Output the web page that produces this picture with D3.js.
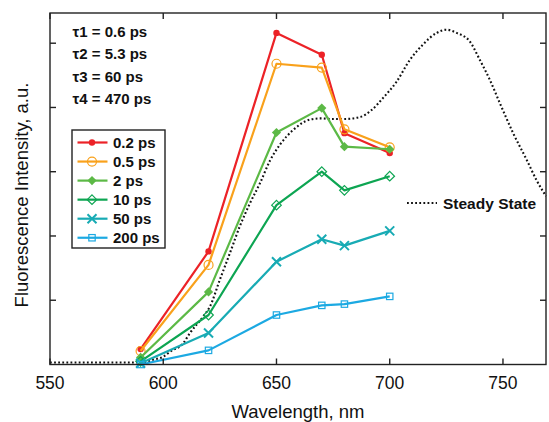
<!DOCTYPE html>
<html>
<head>
<meta charset="utf-8">
<script src="https://cdn.jsdelivr.net/npm/d3@7"></script>
<style>
  html, body { margin: 0; padding: 0; background: #fff; }
  svg { display: block; font-family: Arial, "Liberation Sans", Helvetica, sans-serif; }
</style>
</head>
<body>
<svg id="chart" width="549" height="422"></svg>
<script>
// Emission wavelengths sampled for the time-resolved spectra (nm)
const wavelengths = [590, 620, 650, 670, 680, 700];

// Time-resolved fluorescence intensity (a.u.) at each delay
const delays = ["0.2 ps", "0.5 ps", "2 ps", "10 ps", "50 ps", "200 ps"];
const i0_2ps = [0.24, 1.76, 5.16, 4.82, 3.60, 3.29];
const i0_5ps = [0.21, 1.55, 4.68, 4.62, 3.66, 3.38];
const i2ps   = [0.11, 1.13, 3.61, 3.99, 3.39, 3.35];
const i10ps  = [0.05, 0.77, 2.48, 3.00, 2.71, 2.93];
const i50ps  = [0.02, 0.49, 1.60, 1.95, 1.85, 2.08];
const i200ps = [0.00, 0.22, 0.77, 0.92, 0.94, 1.06];

// Steady-state emission spectrum
const ssWavelength = [550, 560, 570, 580, 588, 592, 596, 600, 603, 608.8, 611.8, 617.7, 620.6, 625, 629.4,
  633.8, 638.3, 642.7, 647.1, 651.5, 657.4, 664.7, 669.9, 674.5, 679.4, 686.8, 692, 697.1, 703, 708.9,
  714.7, 720.7, 725.1, 729.5, 735.3, 739.8, 744.2, 748.6, 754.5, 760.4, 764.8, 769];
const ssIntensity = [0.03, 0.03, 0.03, 0.03, 0.03, 0.04, 0.08, 0.12, 0.20, 0.33, 0.49, 0.75, 0.90, 1.32, 1.73,
  2.15, 2.51, 2.82, 3.17, 3.42, 3.65, 3.81, 3.83, 3.82, 3.82, 3.85, 3.96, 4.15, 4.40, 4.74,
  4.98, 5.16, 5.21, 5.16, 5.03, 4.74, 4.43, 4.07, 3.60, 3.19, 2.87, 2.62];

// Fitted lifetimes
const lifetimes = ["τ1 = 0.6 ps", "τ2 = 5.3 ps", "τ3 = 60 ps", "τ4 = 470 ps"];

const xTicks = [550, 600, 650, 700, 750];
const yTicks = [1, 2, 3, 4, 5];

const seriesValues = [i0_2ps, i0_5ps, i2ps, i10ps, i50ps, i200ps];
const colors = ["#ec2227", "#f9a11b", "#5cb946", "#0da552", "#18abb4", "#1ca9e2"];
const markers = ["dotFilled", "circleOpen", "diamondFilled", "diamondOpen", "cross", "squareOpen"];

const svg = d3.select("#chart");
const plotL = 50, plotR = 546, plotT = 13, plotB = 364.5;

const x = d3.scaleLinear().domain([550, 769]).range([plotL, plotR]);
const y = d3.scaleLinear().domain([0, 5.47]).range([plotB, plotT]);

// Steady-state curve
const ssData = ssWavelength.map((w, i) => [w, ssIntensity[i]]);
svg.append("path")
  .datum(ssData)
  .attr("fill", "none")
  .attr("stroke", "#111")
  .attr("stroke-width", 2.1)
  .attr("stroke-dasharray", "1.8,2.3")
  .attr("d", d3.line().x(d => x(d[0])).y(d => y(d[1])).curve(d3.curveMonotoneX));

function drawMarker(g, type, color) {
  switch (type) {
    case "dotFilled":
      g.append("circle").attr("r", 3.2).attr("fill", color);
      break;
    case "circleOpen":
      g.append("circle").attr("r", 4.5).attr("fill", "none")
        .attr("stroke", color).attr("stroke-width", 1.2);
      break;
    case "diamondFilled":
      g.append("path").attr("d", "M0,-4.6L4.6,0L0,4.6L-4.6,0Z").attr("fill", color);
      break;
    case "diamondOpen":
      g.append("path").attr("d", "M0,-4.8L4.8,0L0,4.8L-4.8,0Z").attr("fill", "none")
        .attr("stroke", color).attr("stroke-width", 1.2);
      break;
    case "cross":
      g.append("path").attr("d", "M-4.5,-4.5L4.5,4.5M-4.5,4.5L4.5,-4.5").attr("fill", "none")
        .attr("stroke", color).attr("stroke-width", 2);
      break;
    case "squareOpen":
      g.append("rect").attr("x", -3.2).attr("y", -3.2).attr("width", 6.4).attr("height", 6.4)
        .attr("fill", "none").attr("stroke", color).attr("stroke-width", 1.2);
      break;
  }
}

// Time-resolved spectra
const line = d3.line().x(d => x(d[0])).y(d => y(d[1]));
seriesValues.forEach((vals, si) => {
  const data = wavelengths.map((w, i) => [w, vals[i]]);
  const g = svg.append("g");
  g.append("path").datum(data)
    .attr("fill", "none")
    .attr("stroke", colors[si])
    .attr("stroke-width", 2.2)
    .attr("stroke-linejoin", "round")
    .attr("d", line);
  data.forEach(d => {
    drawMarker(g.append("g").attr("transform", `translate(${x(d[0])},${y(d[1])})`), markers[si], colors[si]);
  });
});

// Frame with inward ticks on all sides
const frame = svg.append("g").attr("stroke", "#222").attr("stroke-width", 1.4);
frame.append("rect").attr("x", plotL).attr("y", plotT)
  .attr("width", plotR - plotL).attr("height", plotB - plotT).attr("fill", "none");
xTicks.forEach(t => {
  frame.append("line").attr("x1", x(t)).attr("x2", x(t)).attr("y1", plotB).attr("y2", plotB - 6);
  frame.append("line").attr("x1", x(t)).attr("x2", x(t)).attr("y1", plotT).attr("y2", plotT + 6);
});
yTicks.forEach(t => {
  frame.append("line").attr("x1", plotL).attr("x2", plotL + 6).attr("y1", y(t)).attr("y2", y(t));
  frame.append("line").attr("x1", plotR).attr("x2", plotR - 6).attr("y1", y(t)).attr("y2", y(t));
});

// Tick labels
svg.append("g").selectAll("text").data(xTicks).join("text")
  .attr("x", d => x(d)).attr("y", 389)
  .attr("text-anchor", "middle")
  .attr("font-size", 17.5)
  .attr("fill", "#111")
  .text(d => d);

// Axis titles
svg.append("text")
  .attr("x", (plotL + plotR) / 2).attr("y", 417.5)
  .attr("text-anchor", "middle")
  .attr("font-size", 18.5)
  .attr("fill", "#111")
  .text("Wavelength, nm");

svg.append("text")
  .attr("transform", "translate(28,195) rotate(-90)")
  .attr("text-anchor", "middle")
  .attr("font-size", 18.5)
  .attr("fill", "#111")
  .text("Fluorescence Intensity, a.u.");

// Lifetimes
svg.append("g").selectAll("text").data(lifetimes).join("text")
  .attr("x", 72.5).attr("y", (d, i) => 36.7 + i * 22.5)
  .attr("font-size", 15).attr("font-weight", "bold").attr("fill", "#111")
  .text(d => d);

// Legend for the time-resolved spectra
const legend = svg.append("g");
legend.append("rect").attr("x", 72).attr("y", 130).attr("width", 93).attr("height", 118)
  .attr("fill", "#fff").attr("stroke", "#222").attr("stroke-width", 1.4);
delays.forEach((label, i) => {
  const ly = 142.5 + i * 19.05;
  legend.append("line").attr("x1", 77.5).attr("x2", 107.5).attr("y1", ly).attr("y2", ly)
    .attr("stroke", colors[i]).attr("stroke-width", 2.2);
  drawMarker(legend.append("g").attr("transform", `translate(92,${ly})`), markers[i], colors[i]);
  legend.append("text").attr("x", 113).attr("y", ly + 5)
    .attr("font-size", 15).attr("font-weight", "bold").attr("fill", "#111")
    .text(label);
});

// Steady-state legend entry
svg.append("line").attr("x1", 407).attr("x2", 437).attr("y1", 203).attr("y2", 203)
  .attr("stroke", "#111").attr("stroke-width", 2.1).attr("stroke-dasharray", "1.8,2.3");
svg.append("text").attr("x", 443).attr("y", 208.5)
  .attr("font-size", 15.5).attr("font-weight", "bold").attr("fill", "#111")
  .text("Steady State");
</script>
</body>
</html>
